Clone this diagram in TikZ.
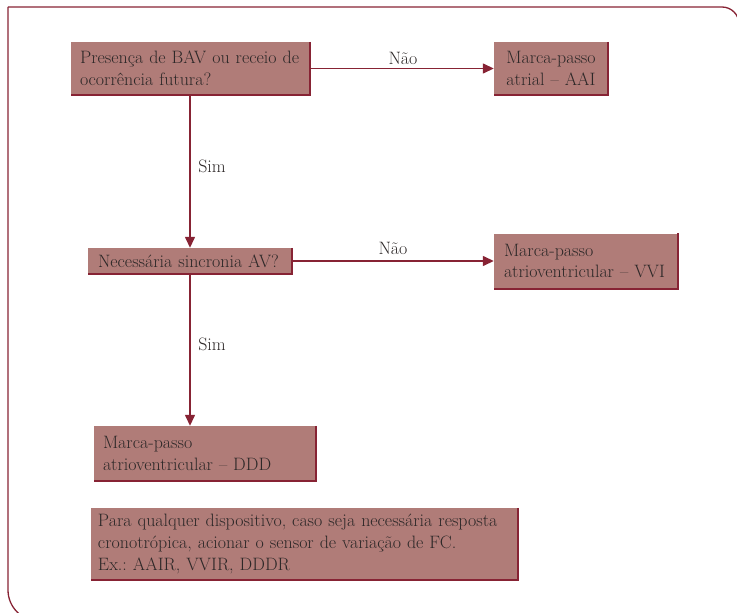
\documentclass[tikz,border=0pt]{standalone}
\usepackage{fontspec}
\usetikzlibrary{arrows.meta}
\definecolor{boxfill}{RGB}{176,124,120}
\definecolor{wine}{RGB}{135,35,52}
\definecolor{ink}{RGB}{45,40,40}
\frenchspacing
\begin{document}
\begin{tikzpicture}[x=1bp,y=-1bp,
  box/.style={fill=boxfill, text=ink, inner xsep=9bp, inner ysep=0pt,
    font=\fontsize{18}{22}\selectfont, align=left},
  link/.style={draw=wine, line width=1.4bp, -{Triangle[length=11bp,width=10bp]}},
  lbl/.style={text=ink, font=\fontsize{18}{20}\selectfont, inner sep=0pt},
  frame/.style={draw=wine, line width=1.3bp}]
\useasboundingbox (0,0) rectangle (737,613);

% outer frame
\begin{scope}
  \clip (0,0) rectangle (737,613);
  \draw[frame, rounded corners=17bp] (8,7) -- (739,7) -- (739,660);
  \draw[frame, rounded corners=31bp] (8,7) -- (8,621) -- (780,621);
\end{scope}

% decision and result boxes
\node[box, text width=221bp, minimum height=53bp] (q1) at (190.5,68.5)
  {Presença de BAV ou receio de\\ocorrência futura?};
\node[box, inner xsep=3bp, text width=108bp, minimum height=53bp, align=center] (aai) at (551,68.5)
  {Marca-passo\\atrial -- AAI};
\node[box, inner xsep=10bp, text width=184bp, minimum height=26bp] (q2) at (190,261)
  {Necessária sincronia AV?};
\node[box, inner xsep=10bp, text width=164bp, minimum height=55bp] (vvi) at (586,261)
  {Marca-passo\\atrioventricular -- VVI};
\node[box, text width=204bp, minimum height=55bp] (ddd) at (205,453.5)
  {Marca-passo\\atrioventricular -- DDD};
\node[box, inner xsep=7bp, text width=413bp, minimum height=72bp] (note) at (304.5,544)
  {Para qualquer dispositivo, caso seja necessária resposta\\cronotrópica, acionar o sensor de variação de FC.\\Ex.: AAIR, VVIR, DDDR};

% drop shadows on the right and bottom edges
\foreach \n in {q1,aai,q2,vvi,ddd,note}
  \draw[wine, line width=1.6bp] (\n.north east) -- (\n.south east) -- (\n.south west);

% connectors
\draw[link] (q1.east) -- (aai.west);
\draw[link] (q2.north |- q1.south) -- (q2.north);
\draw[link] (q2.east) -- (vvi.west);
\draw[link] (q2.south) -- (q2.south |- ddd.north);

% labels
\node[lbl] (n1) at (403,58) {Não};
\node[lbl] (s1) at (212,166) {Sim};
\node[lbl] (n2) at (393,248) {Não};
\node[lbl] (s2) at (212,344) {Sim};
\end{tikzpicture}
\end{document}
